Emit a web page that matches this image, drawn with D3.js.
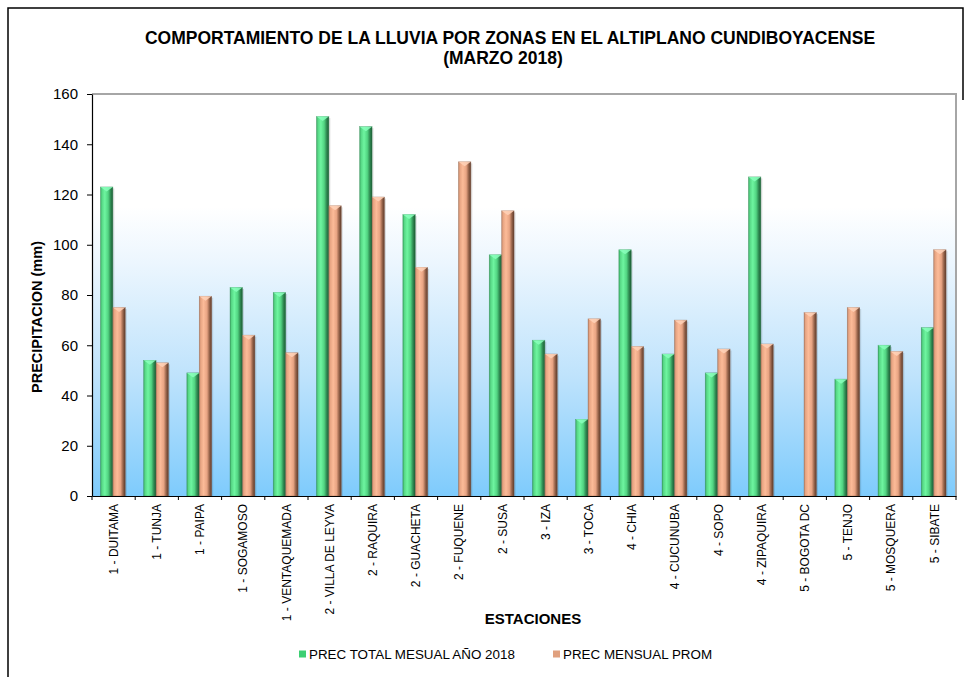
<!DOCTYPE html>
<html>
<head>
<meta charset="utf-8">
<script src="https://cdn.jsdelivr.net/npm/d3@7"></script>
<style>
  html, body { margin: 0; padding: 0; background: #ffffff; }
  svg { display: block; font-family: "Liberation Sans", Arial, sans-serif; }
</style>
</head>
<body>
<svg id="chart" width="971" height="677"></svg>
<script>
// Stations (zone - name)
const estaciones = [
  "1 - DUITAMA", "1 - TUNJA", "1 - PAIPA", "1 - SOGAMOSO", "1 - VENTAQUEMADA",
  "2 - VILLA DE LEYVA", "2 - RAQUIRA", "2 - GUACHETA", "2 - FUQUENE", "2 - SUSA",
  "3 - IZA", "3 - TOCA", "4 - CHIA", "4 - CUCUNUBA", "4 - SOPO",
  "4 - ZIPAQUIRA", "5 - BOGOTA DC", "5 - TENJO", "5 - MOSQUERA", "5 - SIBATE"
];
// March 2018 total precipitation (mm); null where no record
const precTotal2018 = [123, 54, 49, 83, 81, 151, 147, 112, null, 96, 62, 30.5, 98, 56.5, 49, 127, null, 46.5, 60, 67];
// Long-term mean March precipitation (mm)
const precMensualProm = [75, 53, 79.5, 64, 57, 115.5, 119, 91, 133, 113.5, 56.5, 70.5, 59.5, 70, 58.5, 60.5, 73, 75, 57.5, 98];
const yTicks = [0, 20, 40, 60, 80, 100, 120, 140, 160];
const seriesNames = ["PREC TOTAL MESUAL AÑO 2018", "PREC MENSUAL PROM"];

const svg = d3.select("#chart");
const plot = { left: 92, right: 956, top: 94, bottom: 496 };

const x0 = d3.scaleBand().domain(estaciones).range([plot.left, plot.right]).padding(0);
const x1 = d3.scaleBand().domain(seriesNames).range([0, x0.bandwidth()])
  .paddingInner(0).paddingOuter(0.74).align(0.46);
const y = d3.scaleLinear().domain([0, 160]).range([plot.bottom, plot.top]);

const defs = svg.append("defs");

// Plot background: white upper part fading to sky blue
const bg = defs.append("linearGradient").attr("id", "bgGrad")
  .attr("x1", 0).attr("y1", 0).attr("x2", 0).attr("y2", 1);
[["0%", "#ffffff"], ["28%", "#ffffff"], ["42%", "#ecf6fe"], ["70%", "#bfe3fc"], ["100%", "#7ecbfc"]]
  .forEach(s => bg.append("stop").attr("offset", s[0]).attr("stop-color", s[1]));

// Cylinder-like shading for bars
function barGradient(id, stops) {
  const g = defs.append("linearGradient").attr("id", id)
    .attr("x1", 0).attr("y1", 0).attr("x2", 1).attr("y2", 0);
  stops.forEach(s => g.append("stop").attr("offset", s[0]).attr("stop-color", s[1]));
}
barGradient("gGreen", [["0%", "#3aa862"], ["12%", "#57d886"], ["35%", "#6ef5a0"], ["62%", "#52d482"], ["82%", "#2f8a52"], ["100%", "#1d5a34"]]);
barGradient("gOrange", [["0%", "#c08466"], ["12%", "#e8a583"], ["35%", "#fcbb98"], ["62%", "#e8a483"], ["82%", "#96634a"], ["100%", "#5c3a2a"]]);

const seriesStyle = [
  { fill: "url(#gGreen)", cap: "#8affbc", edge: "#2f8550", legend: "#3ccf72" },
  { fill: "url(#gOrange)", cap: "#ffd2b8", edge: "#8d5f47", legend: "#e0a07e" }
];

// Background
svg.append("rect")
  .attr("x", plot.left).attr("y", plot.top)
  .attr("width", plot.right - plot.left).attr("height", plot.bottom - plot.top)
  .attr("fill", "url(#bgGrad)");

// Plot frame (top and right in grey)
svg.append("path")
  .attr("d", `M${plot.left},${plot.top}H${plot.right}V${plot.bottom}`)
  .attr("fill", "none").attr("stroke", "#a6a6a6").attr("stroke-width", 2);

// Bars
const data = [];
estaciones.forEach((e, i) => {
  [precTotal2018[i], precMensualProm[i]].forEach((v, s) => {
    if (v != null) data.push({ estacion: e, serie: s, value: v });
  });
});

const bars = svg.append("g").selectAll("g").data(data).join("g")
  .attr("transform", d => `translate(${x0(d.estacion) + x1(seriesNames[d.serie])},0)`);

const bw = x1.bandwidth();
// soft shadow
bars.append("rect")
  .attr("x", 1.5).attr("y", d => y(d.value) + 1.5)
  .attr("width", bw).attr("height", d => plot.bottom - y(d.value) - 1.5)
  .attr("fill", "#000").attr("opacity", 0.12);
bars.append("rect")
  .attr("x", 0).attr("y", d => y(d.value))
  .attr("width", bw).attr("height", d => plot.bottom - y(d.value))
  .attr("fill", d => seriesStyle[d.serie].fill)
  .attr("stroke", d => seriesStyle[d.serie].edge).attr("stroke-width", 0.6).attr("stroke-opacity", 0.6);
// bevelled top cap
bars.append("path")
  .attr("d", d => {
    const t = y(d.value);
    return `M0,${t}H${bw}L${bw * 0.5},${t + 4.5}Z`;
  })
  .attr("fill", d => seriesStyle[d.serie].cap).attr("opacity", 0.85);

// Y axis
const yAxis = svg.append("g")
  .attr("transform", `translate(${plot.left},0)`)
  .call(d3.axisLeft(y).tickValues(yTicks).tickSize(5).tickSizeOuter(0));
yAxis.select(".domain").attr("stroke", "#000").attr("stroke-width", 1.2);
yAxis.selectAll(".tick line").attr("stroke", "#000");
yAxis.selectAll(".tick text")
  .attr("x", -14).attr("font-size", 15).attr("fill", "#000")
  .style("font-family", "'Liberation Sans', Arial, sans-serif");

// X axis with ticks between categories
const xAxis = svg.append("g")
  .attr("transform", `translate(0,${plot.bottom})`)
  .call(d3.axisBottom(x0).tickSize(0).tickSizeOuter(0));
xAxis.select(".domain").attr("stroke", "#000").attr("stroke-width", 1.2);
xAxis.selectAll(".tick text")
  .attr("transform", "rotate(-90)")
  .attr("x", -8).attr("y", 0).attr("dy", "0.35em")
  .attr("text-anchor", "end")
  .attr("font-size", 12).attr("fill", "#000")
  .style("font-family", "'Liberation Sans', Arial, sans-serif");
const boundaries = estaciones.map(e => x0(e)).concat([plot.right]);
svg.append("g").selectAll("line").data(boundaries).join("line")
  .attr("x1", d => d).attr("x2", d => d)
  .attr("y1", plot.bottom).attr("y2", plot.bottom + 4)
  .attr("stroke", "#000");

// Titles
const title = svg.append("text")
  .attr("text-anchor", "middle").attr("font-weight", "bold").attr("font-size", 17.5).attr("fill", "#000");
title.append("tspan").attr("x", 510).attr("y", 44)
  .text("COMPORTAMIENTO DE LA LLUVIA POR ZONAS  EN EL ALTIPLANO CUNDIBOYACENSE");
title.append("tspan").attr("x", 503).attr("y", 64).text("(MARZO 2018)");

svg.append("text")
  .attr("transform", `translate(42,317) rotate(-90)`)
  .attr("text-anchor", "middle").attr("font-weight", "bold").attr("font-size", 14.5)
  .text("PRECIPITACION (mm)");

svg.append("text")
  .attr("x", 533).attr("y", 624)
  .attr("text-anchor", "middle").attr("font-weight", "bold").attr("font-size", 15)
  .text("ESTACIONES");

// Legend
const legendPos = [299, 553];
const legend = svg.append("g").selectAll("g").data(seriesNames).join("g")
  .attr("transform", (d, i) => `translate(${legendPos[i]},654)`);
legend.append("rect").attr("x", 0).attr("y", -3.5).attr("width", 7).attr("height", 7)
  .attr("fill", (d, i) => seriesStyle[i].legend);
legend.append("text").attr("x", 10).attr("y", 0).attr("dy", "0.35em")
  .attr("font-size", 13.4).attr("fill", "#000").text(d => d);

// Outer chart border
svg.append("path")
  .attr("d", "M8,677V8H963V100")
  .attr("fill", "none").attr("stroke", "#000").attr("stroke-width", 1.5);
</script>
</body>
</html>
